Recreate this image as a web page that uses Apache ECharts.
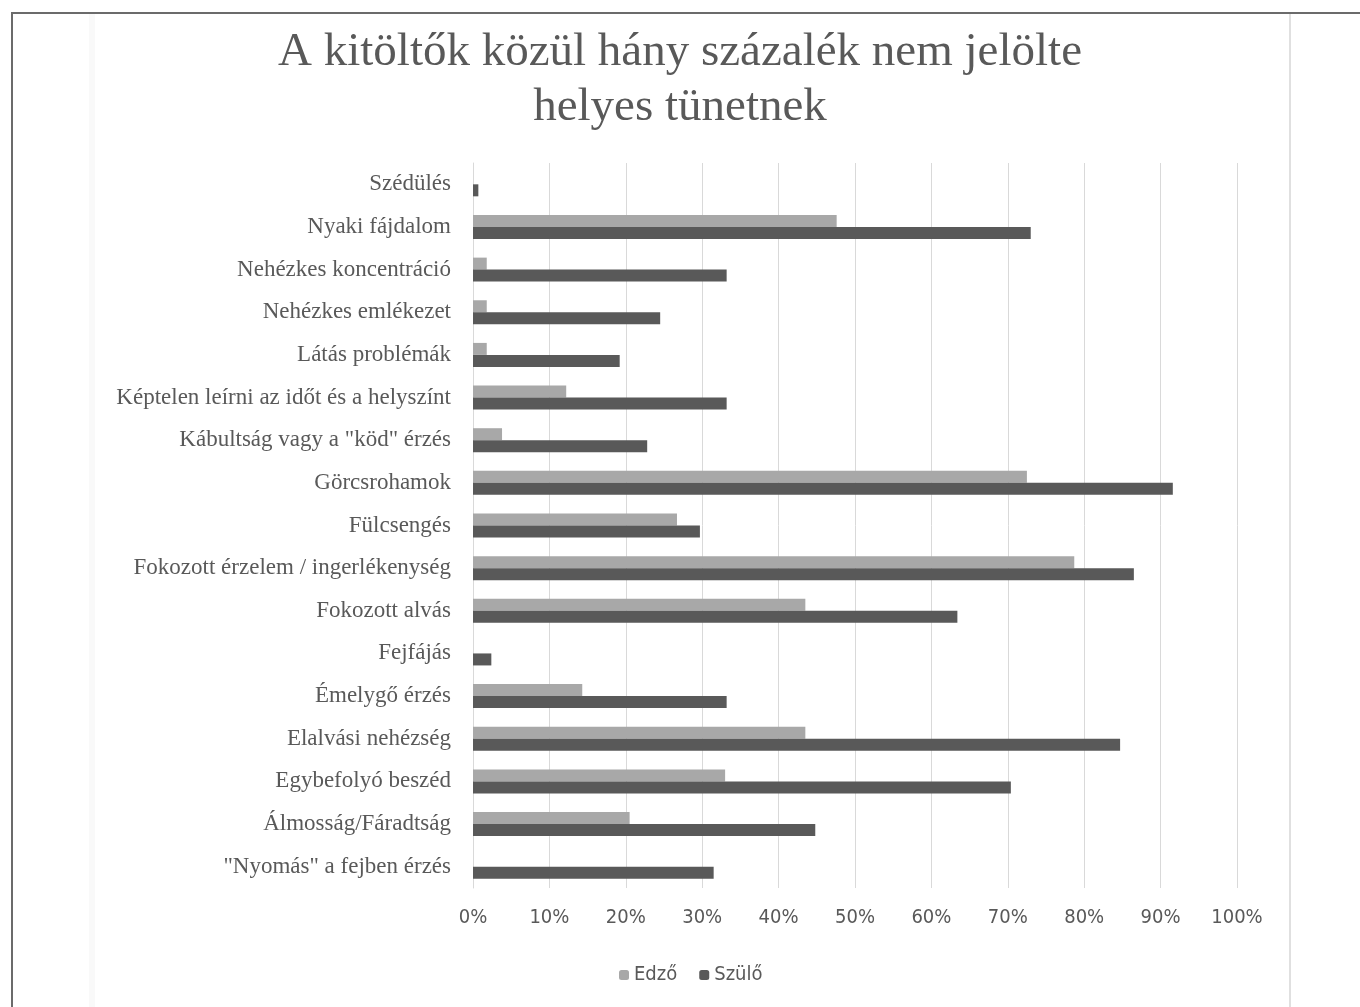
<!DOCTYPE html>
<html>
<head>
<meta charset="utf-8">
<script src="https://cdn.jsdelivr.net/npm/echarts@6/dist/echarts.min.js"></script>
<style>
    html, body { margin: 0; padding: 0; background: #fff; }
    #main { width: 1360px; height: 1007px; }
</style>
</head>
<body>
<div id="main"></div>
<script>
// tünetek, fentről lefelé
var categories = [
    'Szédülés',
    'Nyaki fájdalom',
    'Nehézkes koncentráció',
    'Nehézkes emlékezet',
    'Látás problémák',
    'Képtelen leírni az időt és a helyszínt',
    'Kábultság vagy a "köd" érzés',
    'Görcsrohamok',
    'Fülcsengés',
    'Fokozott érzelem / ingerlékenység',
    'Fokozott alvás',
    'Fejfájás',
    'Émelygő érzés',
    'Elalvási nehézség',
    'Egybefolyó beszéd',
    'Álmosság/Fáradtság',
    '"Nyomás" a fejben érzés'
];
var edzo = [0, 47.6, 1.8, 1.8, 1.8, 12.2, 3.8, 72.5, 26.7, 78.7, 43.5, 0, 14.3, 43.5, 33.0, 20.5, 0];
var szulo = [0.7, 73.0, 33.2, 24.5, 19.2, 33.2, 22.8, 91.6, 29.7, 86.5, 63.4, 2.4, 33.2, 84.7, 70.4, 44.8, 31.5];
var seriesNames = ['Edző', 'Szülő'];

var textColor = '#595959';
var narrowFont = 'Liberation Sans Narrow, DejaVu Sans Condensed, sans-serif';

var option = {
    backgroundColor: '#fff',
    animation: false,
    title: {
        text: 'A kitöltők közül hány százalék nem jelölte\nhelyes tünetnek',
        left: 'center',
        top: 20,
        textStyle: {
            fontFamily: 'Liberation Serif',
            fontSize: 47,
            fontWeight: 'normal',
            color: textColor,
            lineHeight: 55
        }
    },
    legend: {
        data: seriesNames,
        left: 614,
        top: 960,
        itemWidth: 10,
        itemHeight: 10,
        itemGap: 22,
        textStyle: {
            fontFamily: narrowFont,
            fontSize: 20,
            color: textColor
        }
    },
    grid: {
        left: 473,
        right: 123,
        top: 163,
        bottom: 119
    },
    xAxis: {
        type: 'value',
        min: 0,
        max: 100,
        interval: 10,
        axisLine: { show: false },
        axisTick: { show: false },
        splitLine: { lineStyle: { color: '#d9d9d9', width: 1 } },
        axisLabel: {
            formatter: '{value}%',
            margin: 20,
            fontFamily: narrowFont,
            fontSize: 20,
            color: textColor
        }
    },
    yAxis: {
        type: 'category',
        inverse: true,
        data: categories,
        axisLine: { show: true, lineStyle: { color: '#d9d9d9' } },
        axisTick: { show: false },
        axisLabel: {
            margin: 22,
            fontFamily: 'Liberation Serif',
            fontSize: 23,
            color: textColor
        }
    },
    series: [
        {
            name: seriesNames[0],
            type: 'bar',
            data: edzo,
            barWidth: 12,
            barGap: '0%',
            itemStyle: { color: '#a8a8a8' }
        },
        {
            name: seriesNames[1],
            type: 'bar',
            data: szulo,
            barWidth: 12,
            itemStyle: { color: '#595959' }
        }
    ],
    graphic: [
        // külső keret
        { type: 'line', shape: { x1: 11, y1: 13, x2: 1360, y2: 13 }, style: { stroke: '#6b6b6b', lineWidth: 2 } },
        { type: 'line', shape: { x1: 12, y1: 13, x2: 12, y2: 1007 }, style: { stroke: '#6b6b6b', lineWidth: 2 } },
        { type: 'line', shape: { x1: 1290, y1: 14, x2: 1290, y2: 1007 }, style: { stroke: '#e0e0e0', lineWidth: 2 } },
        { type: 'line', shape: { x1: 92, y1: 14, x2: 92, y2: 1007 }, style: { stroke: '#f9f9f9', lineWidth: 6 } }
    ]
};

echarts.init(document.getElementById('main')).setOption(option);
</script>
</body>
</html>
